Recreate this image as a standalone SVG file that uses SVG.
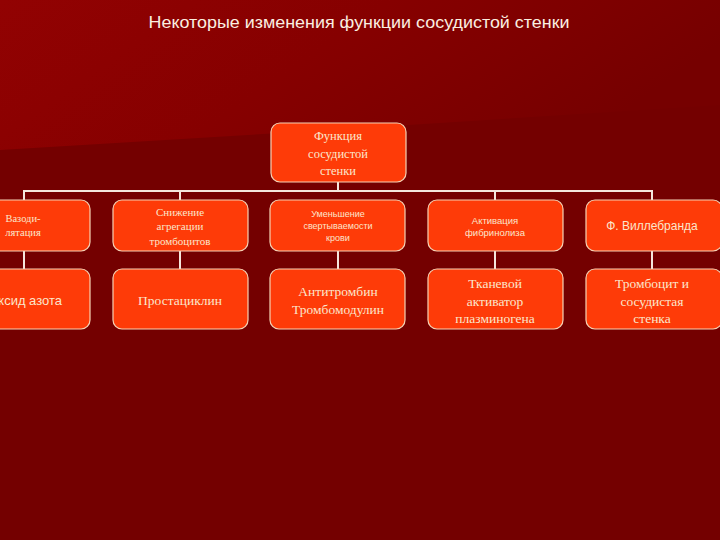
<svg xmlns="http://www.w3.org/2000/svg" width="720" height="540" viewBox="0 0 720 540">
<defs>
<linearGradient id="bgTop" x1="0" y1="0" x2="1" y2="0.3">
<stop offset="0" stop-color="#920202"/>
<stop offset="0.5" stop-color="#860000"/>
<stop offset="1" stop-color="#760000"/>
</linearGradient>
<style>
.box{fill:#fe3b08;stroke:#f6d2b4;stroke-width:1.2}
.con{stroke:#f4e6dc;stroke-width:2;fill:none}
.t{fill:#fbe6cc;text-anchor:middle}
.serif{font-family:"Liberation Serif","DejaVu Serif",serif}
.sans{font-family:"Liberation Sans","DejaVu Sans",sans-serif}
</style>
</defs>
<rect x="0" y="0" width="720" height="540" fill="#740000"/>
<polygon points="0,0 720,0 720,105 330,130 0,150" fill="url(#bgTop)"/>
<text x="359" y="28" class="sans" font-size="17" fill="#fbefe0" text-anchor="middle" textLength="421" lengthAdjust="spacingAndGlyphs">Некоторые изменения функции сосудистой стенки</text>

<g id="connectors">
<line class="con" x1="338" y1="182" x2="338" y2="191"/>
<polyline class="con" points="24,200 24,191 652,191 652,200"/>
<line class="con" x1="180" y1="191" x2="180" y2="200"/>
<line class="con" x1="495" y1="191" x2="495" y2="200"/>
<line class="con" x1="24" y1="251" x2="24" y2="269"/>
<line class="con" x1="180" y1="251" x2="180" y2="269"/>
<line class="con" x1="338" y1="251" x2="338" y2="269"/>
<line class="con" x1="495" y1="251" x2="495" y2="269"/>
<line class="con" x1="652" y1="251" x2="652" y2="269"/>
</g>

<g id="root">
<rect class="box" x="271" y="123" width="135" height="59" rx="9"/>
<text class="t serif" font-size="12.5" x="338" y="140">Функция</text>
<text class="t serif" font-size="12.5" x="338" y="158">сосудистой</text>
<text class="t serif" font-size="12.5" x="338" y="175">стенки</text>
</g>

<g id="n-vazo">
<rect class="box" x="-44" y="200" width="134" height="51" rx="9"/>
<text class="t serif" font-size="10.5" x="23" y="222">Вазоди-</text>
<text class="t serif" font-size="10.5" x="23" y="236">лятация</text>
</g>
<g id="n-agreg">
<rect class="box" x="113" y="200" width="135" height="51" rx="9"/>
<text class="t serif" font-size="11" x="180" y="216">Снижение</text>
<text class="t serif" font-size="11" x="180" y="230">агрегации</text>
<text class="t serif" font-size="11" x="180" y="245">тромбоцитов</text>
</g>
<g id="n-sverty">
<rect class="box" x="270" y="200" width="135" height="51" rx="9"/>
<text class="t sans" font-size="9" x="338" y="217">Уменьшение</text>
<text class="t sans" font-size="9" x="338" y="229">свертываемости</text>
<text class="t sans" font-size="9" x="338" y="241">крови</text>
</g>
<g id="n-fibr">
<rect class="box" x="428" y="200" width="135" height="51" rx="9"/>
<text class="t sans" font-size="9.5" x="495" y="224">Активация</text>
<text class="t sans" font-size="9.5" x="495" y="236">фибринолиза</text>
</g>
<g id="n-will">
<rect class="box" x="586" y="200" width="136" height="51" rx="9"/>
<text class="t sans" font-size="12" x="652" y="230">Ф. Виллебранда</text>
</g>

<g id="n-oxid">
<rect class="box" x="-44" y="269" width="134" height="60" rx="9"/>
<text class="t sans" font-size="13" x="62" y="305" text-anchor="end" style="text-anchor:end">Оксид азота</text>
</g>
<g id="n-prost">
<rect class="box" x="113" y="269" width="135" height="60" rx="9"/>
<text class="t serif" font-size="13.5" x="180" y="305">Простациклин</text>
</g>
<g id="n-anti">
<rect class="box" x="270" y="269" width="135" height="60" rx="9"/>
<text class="t serif" font-size="13.5" x="338" y="296">Антитромбин</text>
<text class="t serif" font-size="13.5" x="338" y="314">Тромбомодулин</text>
</g>
<g id="n-tkan">
<rect class="box" x="428" y="269" width="135" height="60" rx="9"/>
<text class="t serif" font-size="13.5" x="495" y="288">Тканевой</text>
<text class="t serif" font-size="13.5" x="495" y="306">активатор</text>
<text class="t serif" font-size="13.5" x="495" y="323">плазминогена</text>
</g>
<g id="n-tromb">
<rect class="box" x="586" y="269" width="136" height="60" rx="9"/>
<text class="t serif" font-size="13.5" x="652" y="288">Тромбоцит и</text>
<text class="t serif" font-size="13.5" x="652" y="306">сосудистая</text>
<text class="t serif" font-size="13.5" x="652" y="323">стенка</text>
</g>
</svg>
